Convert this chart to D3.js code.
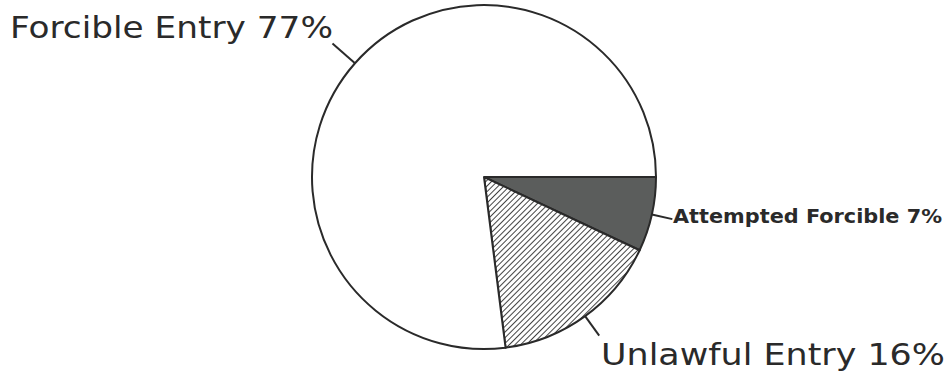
<!DOCTYPE html>
<html><head><meta charset="utf-8">
<script src="https://cdn.jsdelivr.net/npm/d3@7"></script>
<style>body{margin:0;background:#fff}svg{display:block}</style>
</head><body>
<svg id="c" width="951" height="379"></svg>
<script>
const categories = ["Attempted Forcible", "Unlawful Entry", "Forcible Entry"];
const values = [7, 16, 77];
const labels = ["Attempted Forcible 7%", "Unlawful Entry 16%", "Forcible Entry 77%"];

const svg = d3.select("#c");
const cx = 484, cy = 177, R = 172;
const defs = svg.append("defs");
const pat = defs.append("pattern").attr("id","hatch").attr("patternUnits","userSpaceOnUse")
  .attr("width",4).attr("height",4).attr("patternTransform","rotate(45)");
pat.append("rect").attr("width",4).attr("height",4).attr("fill","#fff");
pat.append("line").attr("x1",0).attr("y1",0).attr("x2",0).attr("y2",4).attr("stroke","#2f2f2f").attr("stroke-width",1.8);

const fills = ["#5b5d5c", "url(#hatch)", "#fff"];
const pie = d3.pie().sort(null).value(d=>d).startAngle(Math.PI/2).endAngle(Math.PI/2+2*Math.PI);
const arcs = pie(values);
const arc = d3.arc().innerRadius(0).outerRadius(R);
const g = svg.append("g").attr("transform",`translate(${cx},${cy})`);
g.selectAll("path").data(arcs).join("path")
  .attr("d",arc).attr("fill",(d,i)=>fills[i])
  .attr("stroke","#2a2a2a").attr("stroke-width",2).attr("stroke-linejoin","round");

// leaders
const lens = [21, 24, 30];
arcs.forEach((d,i)=>{
  const a = (d.startAngle+d.endAngle)/2;
  const s = Math.sin(a), c = -Math.cos(a);
  g.append("line").attr("x1",s*R).attr("y1",c*R).attr("x2",s*(R+lens[i])).attr("y2",c*(R+lens[i]))
    .attr("stroke","#2a2a2a").attr("stroke-width",2);
});

const txt = [
  {x:673, y:223, size:19, w:269, weight:"bold", fam:"'DejaVu Sans', sans-serif"},
  {x:601, y:365, size:30, w:344, weight:"normal", fam:"'DejaVu Sans', sans-serif"},
  {x:10, y:38, size:30, w:323, weight:"normal", fam:"'DejaVu Sans', sans-serif"}
];
labels.forEach((t,i)=>{
  const o = txt[i];
  svg.append("text").attr("x",o.x).attr("y",o.y).attr("font-size",o.size)
    .attr("font-family",o.fam).attr("font-weight",o.weight).attr("fill","#2a2a2a")
    .attr("textLength",o.w).attr("lengthAdjust","spacingAndGlyphs").text(t);
});
</script>
</body></html>
